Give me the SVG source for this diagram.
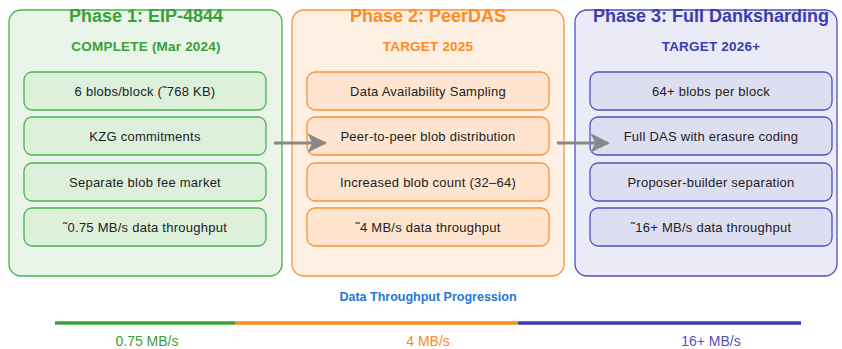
<svg xmlns="http://www.w3.org/2000/svg" width="842" height="349" viewBox="0 0 842 349">
  <defs>
    <marker id="arrowHead" viewBox="0 0 10 10" refX="9" refY="5" markerWidth="6.5" markerHeight="6.5" markerUnits="strokeWidth" orient="auto">
      <path d="M0,0 L10,5 L0,10 L2.5,5 Z" fill="#888888"/>
    </marker>
  </defs>
  <style>
    text { font-family: "Liberation Sans", "DejaVu Sans", sans-serif; text-anchor: middle; }
    .title { font-size: 18px; font-weight: bold; }
    .sub { font-size: 13.5px; font-weight: bold; letter-spacing: 0.2px; }
    .item { font-size: 13px; letter-spacing: 0.25px; fill: #222222; }
    .p1 .outer { fill: #e9f5e9; stroke: #4cb04c; stroke-width: 1.3; }
    .p1 .inner { fill: #dcf0dc; stroke: #4cb04c; stroke-width: 1.3; }
    .p1 .head { fill: #3aa03a; }
    .p2 .outer { fill: #fff0e4; stroke: #ff9033; stroke-width: 1.3; }
    .p2 .inner { fill: #ffe5cf; stroke: #ff9033; stroke-width: 1.3; }
    .p2 .head { fill: #ff8a22; }
    .p3 .outer { fill: #ebebf8; stroke: #5050c0; stroke-width: 1.3; }
    .p3 .inner { fill: #dedef2; stroke: #5050c0; stroke-width: 1.3; }
    .p3 .head { fill: #3c3cb0; }
    .conn { stroke: #888888; stroke-width: 3; fill: none; marker-end: url(#arrowHead); }
    .bar { stroke-width: 3.5; }
    .rate { font-size: 14px; }
  </style>

  <!-- Phase 1 -->
  <g id="phase1" class="p1">
    <rect class="outer" x="9" y="10" width="273" height="266" rx="12"/>
    <text class="title head" x="146" y="22">Phase 1:  EIP-4844</text>
    <text class="sub head" x="146" y="51">COMPLETE (Mar 2024)</text>
    <g id="p1-blobs"><rect class="inner" x="24" y="72" width="242" height="38" rx="8"/><text class="item" x="145" y="95.5">6 blobs/block (˜768 KB)</text></g>
    <g id="p1-kzg"><rect class="inner" x="24" y="117" width="242" height="38" rx="8"/><text class="item" x="145" y="140.5">KZG commitments</text></g>
    <g id="p1-fee"><rect class="inner" x="24" y="163" width="242" height="38" rx="8"/><text class="item" x="145" y="186.5">Separate blob fee market</text></g>
    <g id="p1-tput"><rect class="inner" x="24" y="208" width="242" height="38" rx="8"/><text class="item" x="145" y="231.5">˜0.75 MB/s data throughput</text></g>
  </g>

  <!-- Phase 2 -->
  <g id="phase2" class="p2">
    <rect class="outer" x="292" y="10" width="272" height="266" rx="12"/>
    <text class="title head" x="428" y="22">Phase 2:  PeerDAS</text>
    <text class="sub head" x="428" y="51">TARGET 2025</text>
    <g id="p2-das"><rect class="inner" x="307" y="72" width="242" height="38" rx="8"/><text class="item" x="428" y="95.5">Data Availability Sampling</text></g>
    <g id="p2-p2p"><rect class="inner" x="307" y="117" width="242" height="38" rx="8"/><text class="item" x="428" y="140.5">Peer-to-peer blob distribution</text></g>
    <g id="p2-count"><rect class="inner" x="307" y="163" width="242" height="38" rx="8"/><text class="item" x="428" y="186.5">Increased blob count (32–64)</text></g>
    <g id="p2-tput"><rect class="inner" x="307" y="208" width="242" height="38" rx="8"/><text class="item" x="428" y="231.5">˜4 MB/s data throughput</text></g>
  </g>

  <!-- Phase 3 -->
  <g id="phase3" class="p3">
    <rect class="outer" x="575" y="10" width="262" height="266" rx="12"/>
    <text class="title head" x="711" y="22">Phase 3:  Full Danksharding</text>
    <text class="sub head" x="711" y="51">TARGET 2026+</text>
    <g id="p3-blobs"><rect class="inner" x="590" y="72" width="242" height="38" rx="8"/><text class="item" x="711" y="95.5">64+ blobs per block</text></g>
    <g id="p3-das"><rect class="inner" x="590" y="117" width="242" height="38" rx="8"/><text class="item" x="711" y="140.5">Full DAS with erasure coding</text></g>
    <g id="p3-pbs"><rect class="inner" x="590" y="163" width="242" height="38" rx="8"/><text class="item" x="711" y="186.5">Proposer-builder separation</text></g>
    <g id="p3-tput"><rect class="inner" x="590" y="208" width="242" height="38" rx="8"/><text class="item" x="711" y="231.5">˜16+ MB/s data throughput</text></g>
  </g>

  <!-- Transitions between phases -->
  <g id="connectors">
    <line class="conn" x1="274" y1="143" x2="325" y2="143"/>
    <line class="conn" x1="557" y1="143" x2="608" y2="143"/>
  </g>

  <!-- Throughput progression bar -->
  <g id="progression">
    <text x="428" y="301" style="font-size:12.5px;font-weight:bold;fill:#1f78d6">Data Throughput Progression</text>
    <line class="bar" x1="55" y1="323" x2="235" y2="323" stroke="#3aa03a"/>
    <line class="bar" x1="235" y1="323" x2="518" y2="323" stroke="#ff8a22"/>
    <line class="bar" x1="518" y1="323" x2="801" y2="323" stroke="#3c3cb0"/>
    <text class="rate" x="147" y="346" fill="#3aa03a">0.75 MB/s</text>
    <text class="rate" x="428" y="346" fill="#ff8a22">4 MB/s</text>
    <text class="rate" x="711" y="346" fill="#5050c0">16+ MB/s</text>
  </g>
</svg>
